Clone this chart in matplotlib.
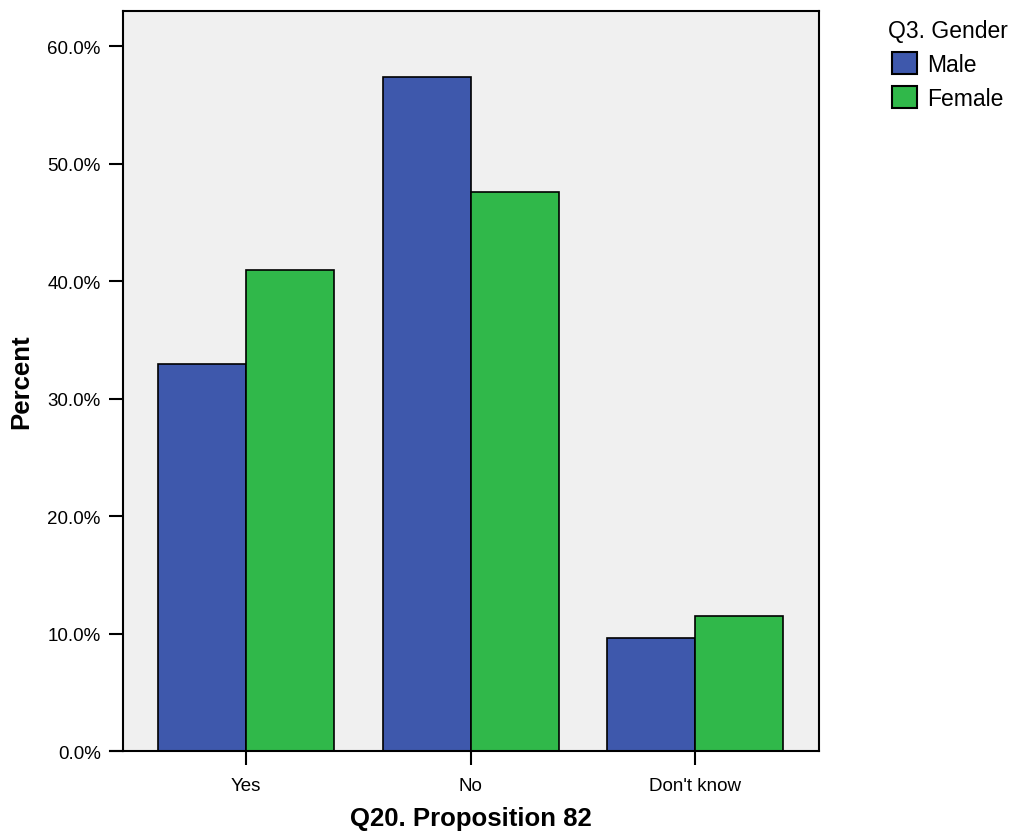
import matplotlib
matplotlib.use("Agg")
import matplotlib.pyplot as plt
from matplotlib.patches import Patch
from matplotlib.lines import Line2D
import numpy as np

plt.rcParams['font.family'] = ['Liberation Sans', 'DejaVu Sans']

categories = ["Yes", "No", "Don't know"]
male = [32.9, 57.4, 9.6]
female = [40.9, 47.6, 11.5]
series_names = ["Male", "Female"]
colors = ["#3E58AC", "#30B84A"]
yticks = [0, 10, 20, 30, 40, 50, 60]

fig = plt.figure(figsize=(10.18, 8.37), dpi=100)
ax = fig.add_axes([0.1208, 0.10155, 0.6837, 0.8841])
ax.set_facecolor("#F0F0F0")

x = np.arange(len(categories))
w = 0.392
ax.bar(x - w/2, male, w, color=colors[0], edgecolor="black", linewidth=1.2)
ax.bar(x + w/2, female, w, color=colors[1], edgecolor="black", linewidth=1.2)

ax.set_xlim(-0.548, 2.552)
ax.set_ylim(0, 62.98)
ax.set_yticks(yticks)
ax.set_yticklabels([f"{v:.1f}%" for v in yticks])
ax.set_xticks(x)
ax.set_xticklabels(categories)
ax.tick_params(axis='both', direction='out', length=10, width=1.5, labelsize=13.5,
               colors='black', pad=6)
ax.tick_params(axis='x', pad=9)
for s in ax.spines.values():
    s.set_linewidth(1.5)

# extend bottom axis line to the left like the reference
ax.add_line(Line2D([-0.019, 0], [0, 0], transform=ax.transAxes, color='black',
                   linewidth=1.5, clip_on=False))

ax.set_ylabel("Percent", fontsize=18.5, fontweight='bold', labelpad=10)
ax.set_xlabel("Q20. Proposition 82", fontsize=18.5, fontweight='bold', labelpad=8)

handles = [Patch(facecolor=c, edgecolor='black', linewidth=1.5, label=n) for c, n in zip(colors, series_names)]
leg = fig.legend(handles=handles, title="Q3. Gender", loc='upper left',
                 bbox_to_anchor=(888/1018, 1 - 20/837), frameon=False, fontsize=16.5,
                 title_fontsize=16.5, handlelength=1.09, handleheight=1.09,
                 handletextpad=0.44, labelspacing=0.45, borderpad=0, borderaxespad=0)

fig.savefig("out.png", dpi=100)
